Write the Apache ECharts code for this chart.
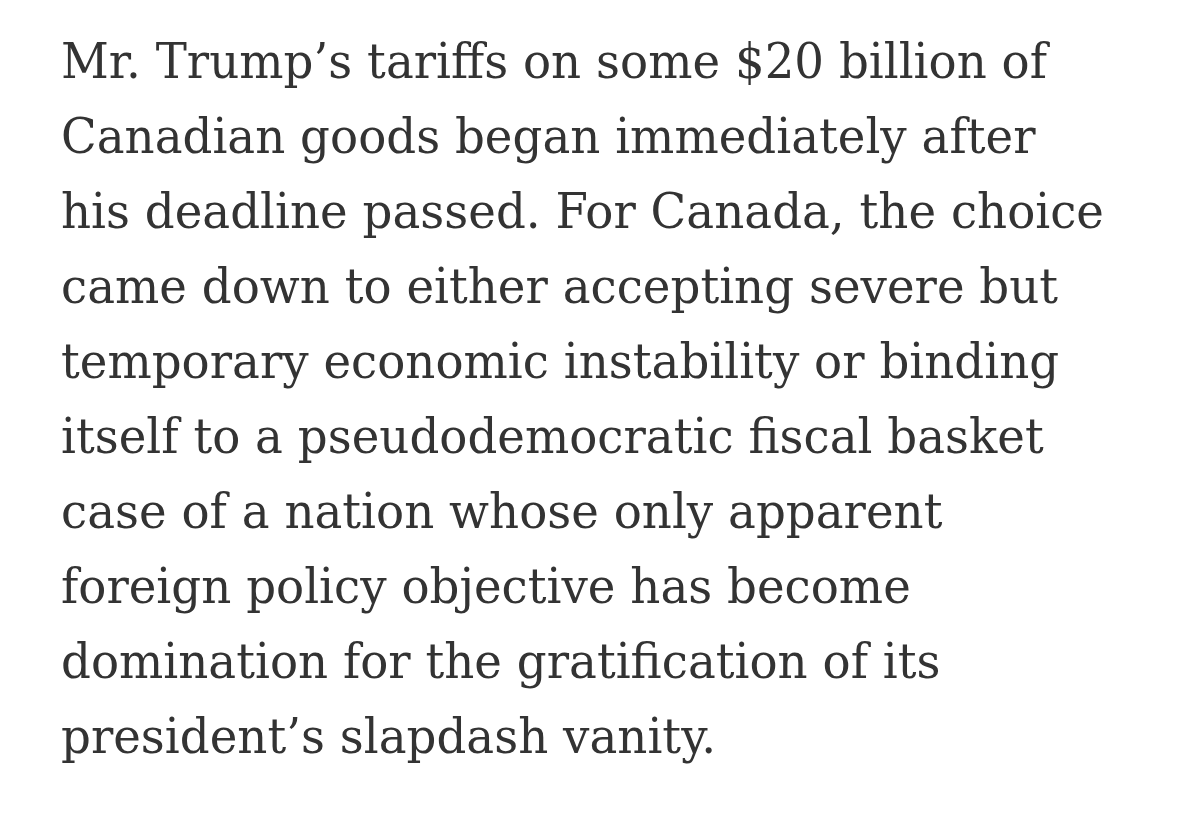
<!DOCTYPE html>
<html><head><meta charset="utf-8">
<script src="https://cdn.jsdelivr.net/npm/echarts@6/dist/echarts.min.js"></script>
<style>html,body{margin:0;padding:0;background:#fff}#c{width:1179px;height:815px}</style>
</head><body><div id="c"></div>
<script>
const lines = [
  "Mr. Trump\u2019s tariffs on some $20 billion of",
  "Canadian goods began immediately after",
  "his deadline passed. For Canada, the choice",
  "came down to either accepting severe but",
  "temporary economic instability or binding",
  "itself to a pseudodemocratic fiscal basket",
  "case of a nation whose only apparent",
  "foreign policy objective has become",
  "domination for the gratification of its",
  "president\u2019s slapdash vanity."
];
const fontSize = 48;
const fontFamily = '"DejaVu Serif", "Liberation Serif", serif';
const fontStr = fontSize + 'px ' + fontFamily;
const ctx = document.createElement('canvas').getContext('2d');
ctx.font = fontStr;
const refW = ctx.measureText(lines[2]).width;
const sx = 1043 / refW;
const left = 61, firstBaseline = 80, pitch = 75, midOffset = 14;
const chart = echarts.init(document.getElementById('c'));
chart.setOption({
  backgroundColor: '#ffffff',
  animation: false,
  graphic: lines.map((t, i) => ({
    type: 'text',
    x: left,
    y: firstBaseline + i * pitch - midOffset,
    scaleX: sx,
    style: {
      text: t,
      font: fontStr,
      fill: '#333333',
      align: 'left',
      verticalAlign: 'middle'
    }
  }))
});
</script></body></html>
